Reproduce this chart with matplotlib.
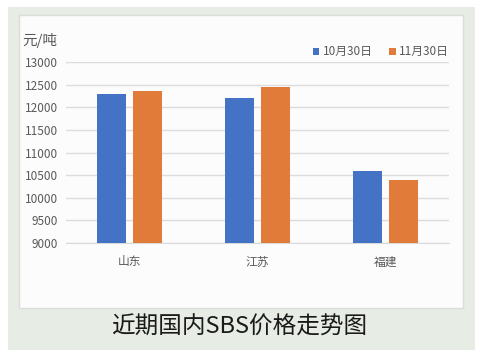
import numpy as np
import matplotlib.pyplot as plt
from matplotlib.patches import Rectangle

plt.rcParams['font.family'] = ['Noto Sans CJK SC', 'DejaVu Sans']

# Data
regions = ['山东', '江苏', '福建']
series_names = ['10月30日', '11月30日']
oct30 = [12300, 12200, 10600]
nov30 = [12350, 12450, 10400]
colors = ['#4472C4', '#E07B39']

W, H = 484, 358
fig = plt.figure(figsize=(W / 100, H / 100), dpi=100)
fig.patch.set_facecolor('white')

def px(x0, y0, x1, y1):
    # pixel box -> figure fraction (left, bottom, width, height)
    return (x0 / W, 1 - y1 / H, (x1 - x0) / W, (y1 - y0) / H)

# green-gray panel and white card
l, b, w, h = px(8, 7, 475, 350)
fig.patches.append(Rectangle((l, b), w, h, transform=fig.transFigure,
                             facecolor='#E7ECE5', edgecolor='none', zorder=-2))
l, b, w, h = px(19, 15, 463, 308)
fig.patches.append(Rectangle((l, b), w, h, transform=fig.transFigure,
                             facecolor='#FCFCFC', edgecolor='#DCDCDA', linewidth=1, zorder=-1))

ax = fig.add_axes(px(66, 62, 449, 243))
ax.set_facecolor('none')

x = np.arange(len(regions))
bw = 0.227
off = 0.141
ax.bar(x - off, oct30, bw, color=colors[0], label=series_names[0], zorder=3)
ax.bar(x + off, nov30, bw, color=colors[1], label=series_names[1], zorder=3)

ax.set_xlim(-0.5, 2.5)
ax.set_ylim(9000, 13000)
ax.set_yticks(np.arange(9000, 13001, 500))
ax.set_xticks(x)
ax.set_xticklabels(regions)
ax.grid(axis='y', color='#DDDDDD', linewidth=1, zorder=0)
for s in ax.spines.values():
    s.set_visible(False)
ax.spines['bottom'].set_visible(True)
ax.spines['bottom'].set_color('#D9D9D9')
ax.tick_params(length=0, labelsize=8.5, colors='#5A5A5A', pad=6)
ax.tick_params(axis='x', pad=9)

fig.text(22 / W, 1 - 40 / H, '元/吨', fontsize=10.5, color='#595959', va='center', ha='left')

ax.legend(loc='lower right', bbox_to_anchor=(1.0, 1.02), ncol=2, frameon=False,
          fontsize=8.5, handlelength=0.55, handleheight=0.55, handletextpad=0.3,
          columnspacing=1.4, labelcolor='#595959', borderaxespad=0, borderpad=0)

fig.text(239 / W, 1 - 327 / H, '近期国内SBS价格走势图', fontsize=17, color='#1A1A1A',
         ha='center', va='center', fontweight='medium')

fig.savefig('out.png', dpi=100)
